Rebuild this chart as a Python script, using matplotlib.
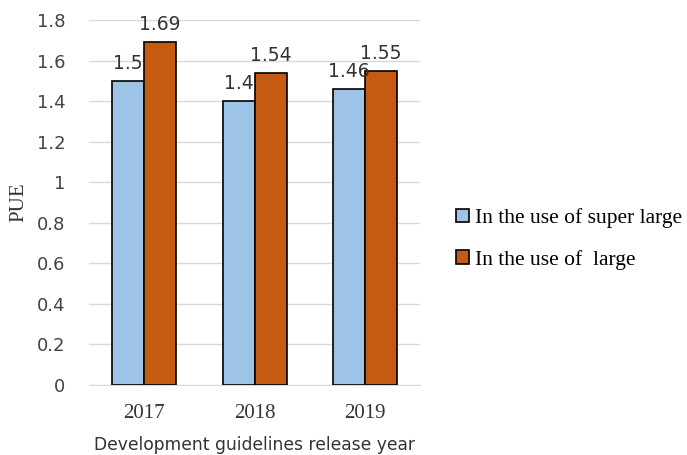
import numpy as np
import matplotlib.pyplot as plt

years = ['2017', '2018', '2019']
super_large = [1.5, 1.4, 1.46]
large = [1.69, 1.54, 1.55]
series_names = ['In the use of super large', 'In the use of  large']

fig = plt.figure(figsize=(6.87, 4.55), dpi=100)
ax = fig.add_axes([0.1295, 0.154, 0.482, 0.802])

x = np.arange(len(years))
w = 0.29
b1 = ax.bar(x - w / 2, super_large, w, color='#9DC3E6', edgecolor='black', linewidth=1.2,
            label=series_names[0], zorder=3)
b2 = ax.bar(x + w / 2, large, w, color='#C55A11', edgecolor='black', linewidth=1.2,
            label=series_names[1], zorder=3)

# value labels above each bar
for bars, vals in ((b1, super_large), (b2, large)):
    for r, v in zip(bars, vals):
        ax.text(r.get_x() + r.get_width() / 2, v + 0.04, f'{v:g}', ha='center', va='bottom',
                fontsize=13.5, color='#333333', family='DejaVu Sans')

ax.set_xlim(-0.5, 2.5)
ax.set_ylim(0, 1.8)
ax.set_yticks(np.arange(0, 1.81, 0.2))
ax.set_yticklabels(['0', '0.2', '0.4', '0.6', '0.8', '1', '1.2', '1.4', '1.6', '1.8'],
                   fontsize=13, color='#444444', family='DejaVu Sans')
ax.set_xticks(x)
ax.set_xticklabels(years, fontsize=15, family='Liberation Serif', color='#333333')
ax.tick_params(axis='x', length=0, pad=14)
ax.tick_params(axis='y', length=0, pad=17)
ax.grid(axis='y', color='#D9D9D9', linewidth=1, zorder=0)
for s in ['top', 'right', 'left']:
    ax.spines[s].set_visible(False)
ax.spines['bottom'].set_color('#D9D9D9')

ax.set_ylabel('PUE', fontsize=15, family='Liberation Serif', color='#333333', labelpad=6)
ax.set_xlabel('Development guidelines release year', fontsize=12.3, family='DejaVu Sans',
              color='#333333', labelpad=9)

ax.legend(loc='center left', bbox_to_anchor=(1.05, 0.40), frameon=False,
          prop={'family': 'Liberation Serif', 'size': 15.5}, handlelength=0.6,
          handleheight=0.6, handletextpad=0.3, labelspacing=1.0)

plt.savefig('out.png', dpi=100)
